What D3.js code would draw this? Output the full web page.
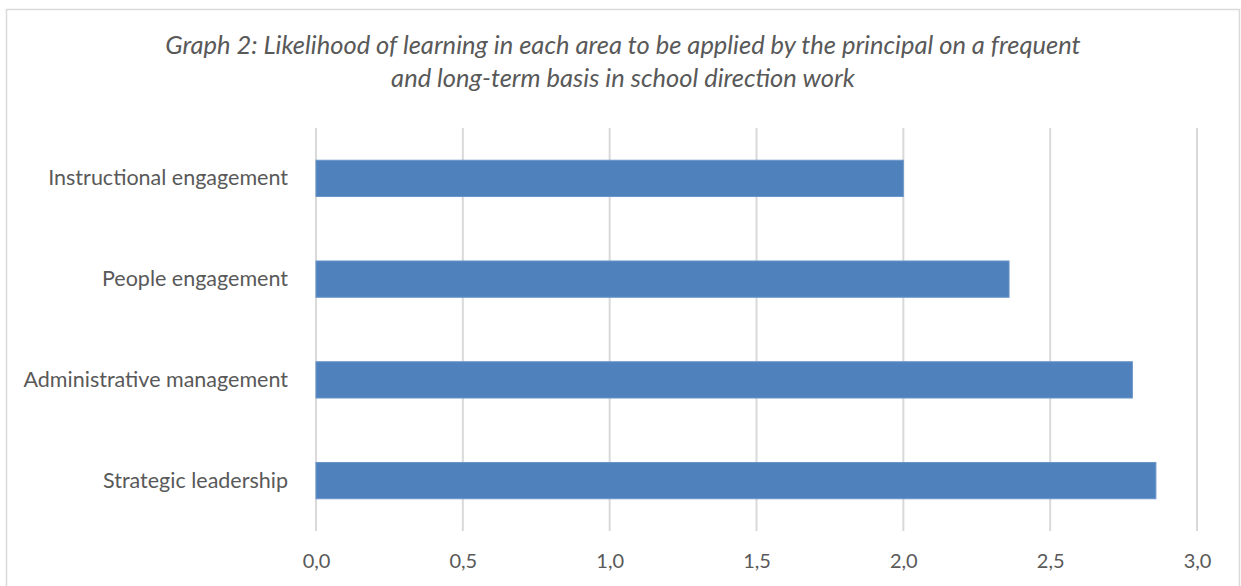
<!DOCTYPE html>
<html>
<head>
<meta charset="utf-8">
<script src="https://cdn.jsdelivr.net/npm/d3@7"></script>
<style>
  html, body { margin: 0; padding: 0; background: #fff; }
  svg { display: block; }
</style>
</head>
<body>
<svg id="chart" width="1241" height="586"></svg>
<script>
// Areas of school direction work and their mean likelihood scores
const categories = [
  "Instructional engagement",
  "People engagement",
  "Administrative management",
  "Strategic leadership"
];
const values = [2.00, 2.36, 2.78, 2.86];
const tickValues = [0, 0.5, 1, 1.5, 2, 2.5, 3];
const titleLines = [
  "Graph 2: Likelihood of learning in each area to be applied by the principal on a frequent",
  "and long-term basis in school direction work"
];

const W = 1241, H = 586;
const margin = { top: 128, right: 44, bottom: 55, left: 316 };
const svg = d3.select("#chart");
const font = "Lato, 'Open Sans', sans-serif";
const textColor = "#595959";
const gridColor = "#D9D9D9";

// chart frame
svg.append("rect")
  .attr("x", 6.5).attr("y", 9.5)
  .attr("width", 1233).attr("height", 600)
  .attr("fill", "#fff")
  .attr("stroke", gridColor).attr("stroke-width", 1.5);

const x = d3.scaleLinear().domain([0, 3]).range([margin.left, W - margin.right]);
const y = d3.scaleBand().domain(categories)
  .range([margin.top, H - margin.bottom])
  .paddingInner(0.64).paddingOuter(0.32);

// vertical gridlines
svg.append("g").selectAll("line")
  .data(tickValues)
  .join("line")
  .attr("x1", d => x(d)).attr("x2", d => x(d))
  .attr("y1", margin.top).attr("y2", H - margin.bottom)
  .attr("stroke", gridColor).attr("stroke-width", 2);

// bars
svg.append("g").selectAll("rect")
  .data(categories)
  .join("rect")
  .attr("x", x(0))
  .attr("y", d => y(d))
  .attr("width", (d, i) => x(values[i]) - x(0))
  .attr("height", y.bandwidth())
  .attr("fill", "#4F81BD")
  .attr("stroke", "#6A95C9").attr("stroke-width", 1);

// x axis tick labels
const xAxis = d3.axisBottom(x)
  .tickValues(tickValues)
  .tickSize(0)
  .tickPadding(0)
  .tickFormat(d => d3.format(".1f")(d).replace(".", ","));
const gx = svg.append("g")
  .attr("transform", `translate(0, ${H - margin.bottom + 37})`)
  .call(xAxis);
gx.select(".domain").remove();
gx.selectAll("text")
  .attr("dy", null)
  .attr("font-family", font).attr("font-size", 20)
  .attr("fill", textColor);

// category labels
const yAxis = d3.axisLeft(y).tickSize(0).tickPadding(28);
const gy = svg.append("g")
  .attr("transform", `translate(${margin.left}, 0)`)
  .call(yAxis);
gy.select(".domain").remove();
gy.selectAll("text")
  .attr("font-family", font).attr("font-size", 21.5)
  .attr("fill", textColor);

// title
svg.append("g").selectAll("text")
  .data(titleLines)
  .join("text")
  .attr("x", 623)
  .attr("y", (d, i) => 54 + i * 33)
  .attr("text-anchor", "middle")
  .attr("font-family", font).attr("font-size", 25.5)
  .attr("font-style", "italic")
  .attr("fill", textColor)
  .text(d => d);
</script>
</body>
</html>
